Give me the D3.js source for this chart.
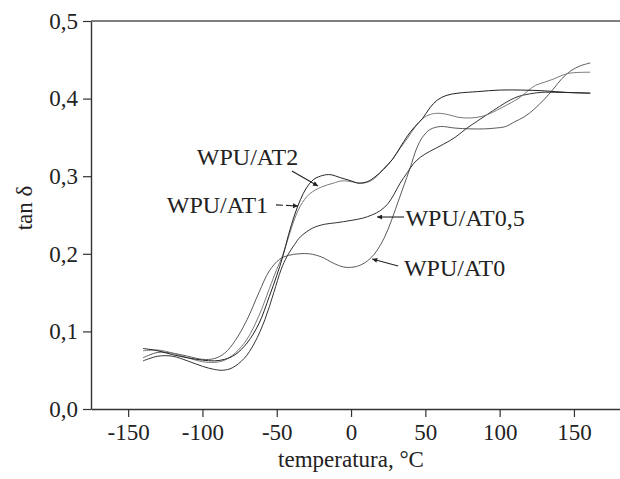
<!DOCTYPE html>
<html lang="pt">
<head>
    <meta charset="UTF-8">
    <title>tan δ vs temperatura</title>
    <script src="https://d3js.org/d3.v7.min.js"></script>
    <style>
        body { margin: 0; background: #fff; }
        svg text { font-family: "Liberation Serif", "Times New Roman", serif; fill: #222; }
    </style>
</head>
<body>
    <svg id="chart" width="620" height="479"></svg>

    <script>
        // Dados (temperatura °C, tan δ)
        const at0T  = [-140,-130,-120,-110,-100,-92,-85,-78,-70,-62,-55,-48,-42,-35,-28,-20,-12,-5,2,8,14,20,25,30,35,40,44,48,53,60,70,80,90,97,104,110,117,123,130,136,142,148,154,161];
        const at0V  = [0.066,0.073,0.072,0.068,0.064,0.065,0.072,0.088,0.115,0.150,0.178,0.193,0.198,0.200,0.200,0.196,0.188,0.183,0.183,0.187,0.196,0.212,0.232,0.258,0.285,0.312,0.335,0.350,0.360,0.364,0.362,0.361,0.361,0.362,0.364,0.370,0.377,0.386,0.399,0.412,0.426,0.436,0.442,0.446];

        const at05T = [-140,-130,-120,-110,-100,-92,-86,-80,-72,-65,-58,-52,-47,-43,-38,-34,-26,-18,-10,0,8,14,20,25,29,33,38,42,47,53,62,70,78,85,92,100,107,113,120,128,140,161];
        const at05V = [0.062,0.068,0.068,0.062,0.055,0.051,0.050,0.053,0.065,0.085,0.115,0.150,0.180,0.197,0.212,0.222,0.233,0.238,0.240,0.243,0.246,0.250,0.256,0.265,0.277,0.291,0.305,0.316,0.325,0.332,0.341,0.350,0.362,0.371,0.380,0.390,0.398,0.403,0.406,0.408,0.408,0.407];

        const at1T  = [-140,-130,-120,-110,-100,-92,-85,-78,-70,-62,-55,-50,-46,-42,-38,-34,-28,-20,-12,-6,0,7,12,17,22,28,33,38,43,48,54,60,66,72,80,88,95,101,108,114,119,124,130,136,142,148,161];
        const at1V  = [0.075,0.076,0.072,0.066,0.061,0.060,0.063,0.072,0.090,0.120,0.155,0.180,0.198,0.222,0.245,0.262,0.277,0.286,0.291,0.294,0.293,0.291,0.293,0.299,0.310,0.322,0.336,0.349,0.363,0.374,0.380,0.381,0.379,0.376,0.375,0.377,0.382,0.388,0.395,0.402,0.410,0.417,0.421,0.425,0.430,0.433,0.434];

        const at2T  = [-140,-130,-120,-110,-100,-92,-85,-78,-70,-62,-55,-50,-46,-42,-38,-34,-30,-25,-19,-14,-7,0,5,11,16,22,28,33,38,43,48,53,58,64,72,85,100,115,130,145,161];
        const at2V  = [0.078,0.075,0.070,0.066,0.063,0.062,0.064,0.070,0.085,0.110,0.145,0.172,0.196,0.225,0.250,0.270,0.285,0.296,0.301,0.302,0.298,0.294,0.291,0.293,0.299,0.309,0.322,0.337,0.352,0.364,0.374,0.388,0.398,0.404,0.407,0.409,0.411,0.411,0.410,0.408,0.407];

        const seriesNames  = ["WPU/AT0", "WPU/AT0,5", "WPU/AT1", "WPU/AT2"];
        const seriesColors = ["#5a5a5a", "#333333", "#7a7a7a", "#222222"];

        const xTicks = [-150, -100, -50, 0, 50, 100, 150];
        const yTicks = [0, 0.1, 0.2, 0.3, 0.4, 0.5];

        // Rótulos e setas (coordenadas em unidades dos dados)
        const labelTexts = ["WPU/AT2", "WPU/AT1", "WPU/AT0,5", "WPU/AT0"];
        const labelPos   = [[-103.8, 0.3144], [-124, 0.2526], [36.6, 0.2358], [35.6, 0.1714]];
        const arrowFrom  = [[-39.8, 0.3067], [-50.5, 0.2630], [35.7, 0.2474], [31.7, 0.1843]];
        const arrowTo    = [[-22.2, 0.2874], [-35.7, 0.2616], [17.5, 0.2474], [14.2, 0.1933]];
        const arrowDash  = [null, "7,3", null, null];

        const seriesData = [
            at0T.map((t, i) => ({t: t, v: at0V[i]})),
            at05T.map((t, i) => ({t: t, v: at05V[i]})),
            at1T.map((t, i) => ({t: t, v: at1V[i]})),
            at2T.map((t, i) => ({t: t, v: at2V[i]}))
        ];

        const margin = {top: 21, right: 0, bottom: 70, left: 91};
        const width = 620 - margin.left - margin.right;
        const plotH = 388;

        const svg = d3.select("#chart");
        const g = svg.append("g")
                     .attr("transform", `translate(${margin.left},${margin.top})`);

        // Escalas
        const x = d3.scaleLinear().domain([-175, 181]).range([0, width]);
        const y = d3.scaleLinear().domain([0, 0.5]).range([plotH, 0]);

        const fmtY = d => d3.format(".1f")(d).replace(".", ",");
        const fmtX = d => String(d);

        // Eixos
        const xAxis = g.append("g")
            .attr("transform", `translate(0,${plotH})`)
            .call(d3.axisBottom(x).tickValues(xTicks).tickFormat(fmtX).tickSize(8).tickSizeOuter(0).tickPadding(7));

        const yAxis = g.append("g")
            .call(d3.axisLeft(y).tickValues(yTicks).tickFormat(fmtY).tickSize(8).tickSizeOuter(0).tickPadding(5));

        [xAxis, yAxis].forEach(a => {
            a.select(".domain").attr("stroke", "#333").attr("stroke-width", 1.4);
            a.selectAll(".tick line").attr("stroke", "#333").attr("stroke-width", 1.2);
            a.selectAll(".tick text").attr("font-size", "23px").attr("fill", "#222")
             .attr("font-family", "Liberation Serif, serif");
        });

        // Linha superior
        g.append("line")
         .attr("x1", 0).attr("x2", width)
         .attr("y1", y(0.5)).attr("y2", y(0.5))
         .attr("stroke", "#555").attr("stroke-width", 1.5);

        // Títulos dos eixos
        g.append("text")
         .attr("x", x(0))
         .attr("y", plotH + 58)
         .attr("text-anchor", "middle")
         .attr("font-size", "23px")
         .text("temperatura, °C");

        g.append("text")
         .attr("transform", "rotate(-90)")
         .attr("x", -(208 - margin.top))
         .attr("y", -margin.left + 32)
         .attr("text-anchor", "middle")
         .attr("font-size", "23px")
         .text("tan δ");

        // Curvas
        const line = d3.line()
                       .x(d => x(d.t))
                       .y(d => y(d.v))
                       .curve(d3.curveCatmullRom.alpha(0.5));

        g.selectAll(".serie")
         .data(seriesData)
         .enter()
         .append("path")
         .attr("class", "serie")
         .attr("fill", "none")
         .attr("stroke", (d, i) => seriesColors[i])
         .attr("stroke-width", 1)
         .attr("d", line);

        // Setas
        svg.append("defs").append("marker")
           .attr("id", "seta")
           .attr("viewBox", "0 0 10 10")
           .attr("refX", 10).attr("refY", 5)
           .attr("markerWidth", 8).attr("markerHeight", 5)
           .attr("markerUnits", "userSpaceOnUse")
           .attr("orient", "auto")
           .append("path")
           .attr("d", "M0,0 L10,5 L0,10 Z")
           .attr("fill", "#222");

        labelTexts.forEach((txt, i) => {
            g.append("line")
             .attr("x1", x(arrowFrom[i][0])).attr("y1", y(arrowFrom[i][1]))
             .attr("x2", x(arrowTo[i][0])).attr("y2", y(arrowTo[i][1]))
             .attr("stroke", "#222").attr("stroke-width", 1.1)
             .attr("stroke-dasharray", arrowDash[i])
             .attr("marker-end", "url(#seta)");

            g.append("text")
             .attr("x", x(labelPos[i][0]))
             .attr("y", y(labelPos[i][1]))
             .attr("font-size", "24px")
             .text(txt);
        });
    </script>
</body>
</html>
